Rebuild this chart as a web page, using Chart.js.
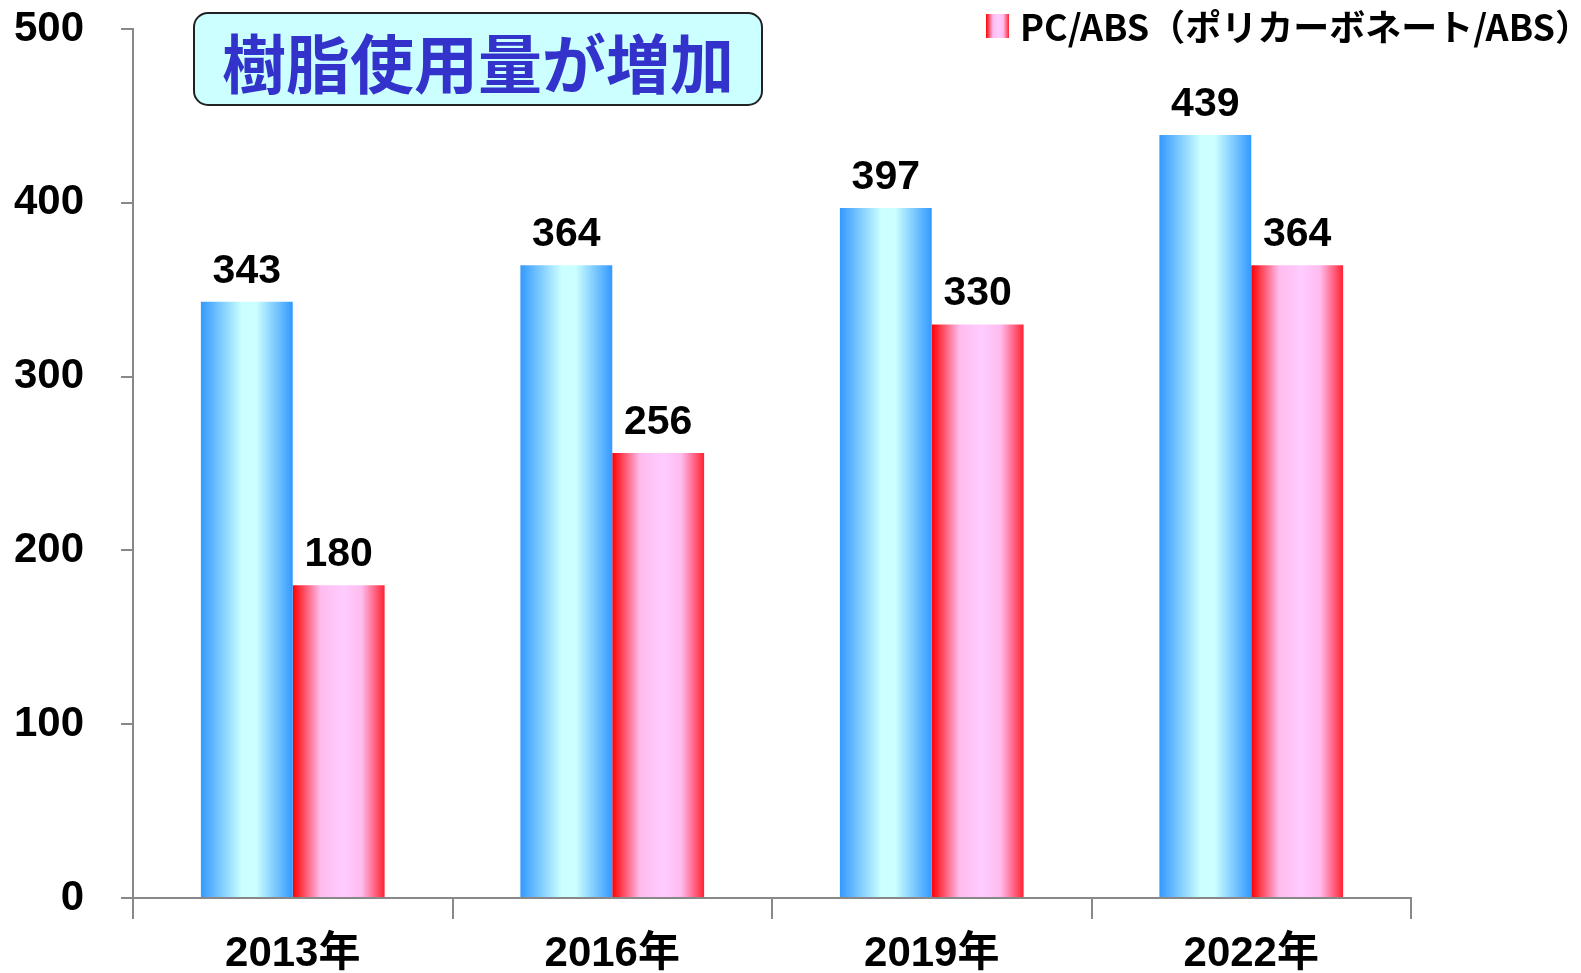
<!DOCTYPE html>
<html>
<head>
<meta charset="utf-8">
<script src="https://cdn.jsdelivr.net/npm/chart.js@4"></script>
<style>
  body { margin: 0; background: #fff; }
  canvas { display: block; }
</style>
</head>
<body>
<canvas id="myChart" width="1581" height="973"></canvas>
<script>
const years = ['2013年', '2016年', '2019年', '2022年'];
const resinTotal = [343, 364, 397, 439];   // 青い棒（凡例は見切れている）
const pcAbs = [180, 256, 330, 364];        // PC/ABS
const yTicks = [0, 100, 200, 300, 400, 500];

const titleText = '樹脂使用量が増加';
const legendText = 'PC/ABS（ポリカーボネート/ABS）';

const CAT_PCT = 0.575;
const LATIN = '"Liberation Sans", "Noto Sans CJK JP", sans-serif';
const CJK = '"Noto Sans CJK JP", sans-serif';

const blueStops = [[0, '#3399ff'], [0.45, '#ccffff'], [0.6, '#ccffff'], [1, '#3399ff']];
const redStops = [[0, '#ff0000'], [0.3, '#ffbbee'], [0.55, '#ffccff'], [0.75, '#ffbbee'], [1, '#ff2233']];

function makeGradient(c, x0, x1, stops) {
    const g = c.createLinearGradient(x0, 0, x1, 0);
    stops.forEach(s => g.addColorStop(s[0], s[1]));
    return g;
}

// 棒ごとに横方向のグラデーションを作る
function barFill(stops) {
    return function(context) {
        const chart = context.chart;
        if (!chart.chartArea || context.type !== 'data') return stops[0][1];
        const xs = chart.scales.x;
        const center = xs.getPixelForValue(context.dataIndex);
        const catW = (xs.right - xs.left) / years.length;
        const groupW = catW * CAT_PCT;
        const left = center - groupW / 2 + context.datasetIndex * groupW / 2;
        return makeGradient(chart.ctx, left, left + groupW / 2, stops);
    };
}

// 値ラベル
const valueLabels = {
    id: 'valueLabels',
    afterDatasetsDraw(chart) {
        const c = chart.ctx;
        c.save();
        c.font = 'bold 41px ' + LATIN;
        c.fillStyle = '#000';
        c.textAlign = 'center';
        c.textBaseline = 'bottom';
        chart.data.datasets.forEach((ds, i) => {
            chart.getDatasetMeta(i).data.forEach((bar, j) => {
                c.fillText(ds.data[j], bar.x, bar.y - 10);
            });
        });
        c.restore();
    }
};

// タイトルの囲みと凡例
const overlay = {
    id: 'overlay',
    afterDraw(chart) {
        const c = chart.ctx;
        c.save();
        c.beginPath();
        c.roundRect(194, 13, 568, 92, 14);
        c.fillStyle = '#ccffff';
        c.fill();
        c.lineWidth = 2;
        c.strokeStyle = '#222';
        c.stroke();
        c.font = 'bold 64px ' + CJK;
        c.fillStyle = '#3333cc';
        c.textAlign = 'center';
        c.textBaseline = 'middle';
        c.fillText(titleText, 478, 64);

        c.fillStyle = makeGradient(c, 986, 1009, redStops);
        c.fillRect(986, 14, 23, 24);
        c.font = 'bold 36px ' + CJK;
        c.fillStyle = '#000';
        c.textAlign = 'left';
        c.fillText(legendText, 1020, 27);
        c.restore();
    }
};

const ctx = document.getElementById('myChart').getContext('2d');

new Chart(ctx, {
    type: 'bar',
    data: {
        labels: years,
        datasets: [
            {
                label: '樹脂合計',
                data: resinTotal,
                backgroundColor: barFill(blueStops),
                categoryPercentage: CAT_PCT,
                barPercentage: 1
            },
            {
                label: legendText,
                data: pcAbs,
                backgroundColor: barFill(redStops),
                categoryPercentage: CAT_PCT,
                barPercentage: 1
            }
        ]
    },
    options: {
        responsive: false,
        animation: false,
        layout: { padding: { top: 29, right: 170, left: 0, bottom: 0 } },
        scales: {
            x: {
                grid: {
                    offset: true,
                    drawOnChartArea: false,
                    color: '#888',
                    lineWidth: 2,
                    tickLength: 21
                },
                border: { display: true, color: '#888', width: 2 },
                ticks: {
                    font: { family: LATIN, size: 42, weight: 'bold' },
                    color: '#000',
                    padding: 10
                },
                afterFit: s => { s.height = 75; }
            },
            y: {
                min: 0,
                max: 500,
                afterBuildTicks: s => { s.ticks = yTicks.map(v => ({ value: v })); },
                grid: {
                    drawOnChartArea: false,
                    color: '#888',
                    lineWidth: 2,
                    tickLength: 12
                },
                border: { display: true, color: '#888', width: 2 },
                ticks: {
                    font: { family: LATIN, size: 42, weight: 'bold' },
                    color: '#000',
                    padding: 37
                },
                afterFit: s => {
                    s.width = 133;
                    s.paddingTop = 0;
                    s.paddingBottom = 0;
                }
            }
        },
        plugins: {
            legend: { display: false },
            tooltip: { enabled: false }
        }
    },
    plugins: [valueLabels, overlay]
});
</script>
</body>
</html>
